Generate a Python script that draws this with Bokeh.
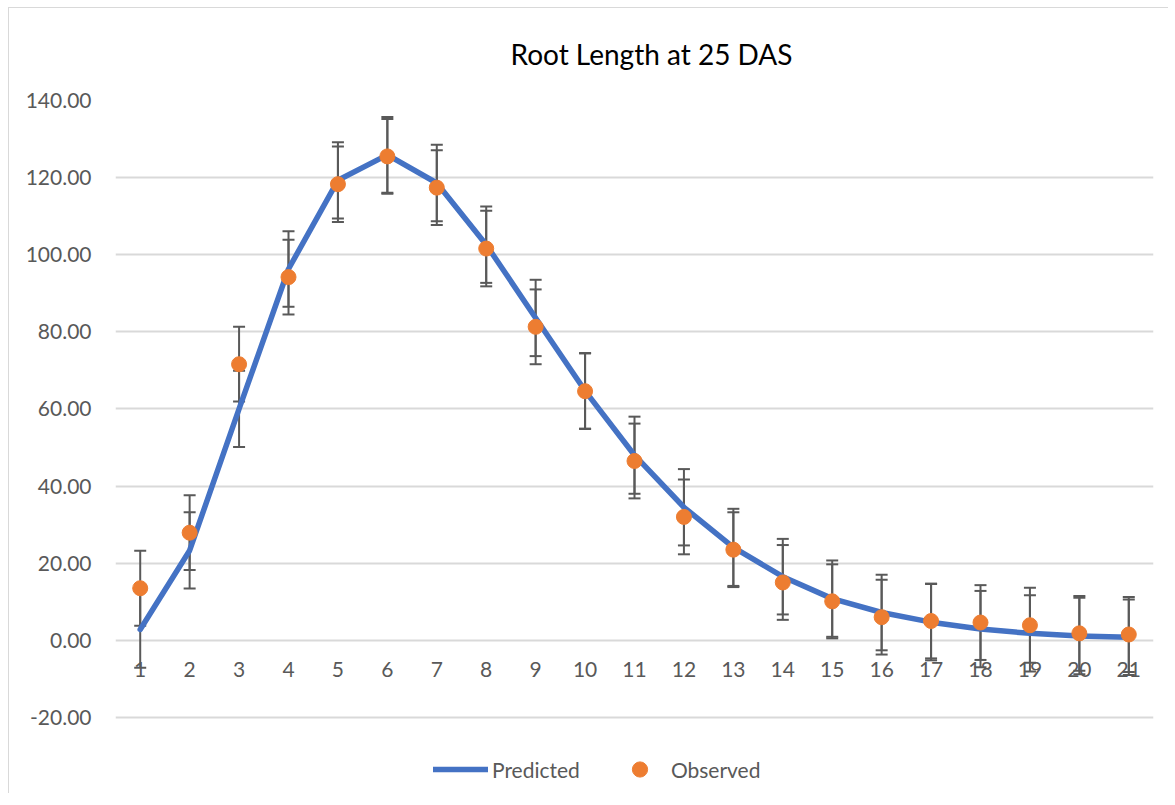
from bokeh.plotting import figure
from bokeh.models import (ColumnDataSource, Range1d, FixedTicker, NumeralTickFormatter,
                          Whisker, TeeHead, Legend, LegendItem)
from bokeh.core.properties import value
from bokeh.embed import file_html
from bokeh.resources import INLINE

# ---- data ----
categories = list(range(1, 22))
category_labels = [str(c) for c in categories]
predicted = [2.8, 23.3, 60.0, 96.3, 119.3, 125.9, 118.6, 102.6, 83.6, 64.7, 48.0,
             34.5, 24.1, 16.5, 10.8, 7.2, 4.7, 2.9, 1.8, 1.1, 0.8]
observed = [13.5, 27.9, 71.6, 94.2, 118.3, 125.5, 117.4, 101.6, 81.3, 64.6, 46.5,
            32.0, 23.5, 15.0, 10.1, 6.0, 5.0, 4.6, 3.9, 1.8, 1.5]
predicted_err = [9.9, 9.9, 9.9, 9.8, 9.9, 9.8, 9.9, 9.9, 9.9, 9.8, 10.0,
                 9.9, 10.0, 9.8, 9.9, 9.8, 9.9, 9.9, 9.9, 9.9, 9.8]
observed_err = [9.7, 9.7, 9.7, 9.7, 9.8, 9.7, 9.7, 9.8, 9.7, 9.8, 9.7,
                9.7, 9.7, 9.7, 9.6, 9.7, 9.7, 9.7, 9.7, 9.7, 9.7]
y_ticks = [-20, 0, 20, 40, 60, 80, 100, 120, 140]
axis_cross = 0  # horizontal axis crosses the value axis at 0

FONT = "Lato"
GREY = "#595959"

src = ColumnDataSource(dict(
    x=categories, pred=predicted, obs=observed,
    p_lo=[v - e for v, e in zip(predicted, predicted_err)],
    p_hi=[v + e for v, e in zip(predicted, predicted_err)],
    o_lo=[v - e for v, e in zip(observed, observed_err)],
    o_hi=[v + e for v, e in zip(observed, observed_err)],
))
lab_src = ColumnDataSource(dict(x=categories, y=[axis_cross] * len(categories),
                                text=category_labels))

p = figure(width=1160, height=786, output_backend="svg", toolbar_location=None,
           x_range=Range1d(0.5, 21.5), y_range=Range1d(-40, 140),
           min_border_left=106, min_border_right=16, min_border_top=92,
           min_border_bottom=0, title="Root Length at 25 DAS")
p.styles = {"margin-left": "8px", "margin-top": "7px",
            "border-left": "1px solid #d9d9d9", "border-top": "1px solid #d9d9d9"}
p.outline_line_color = None
p.background_fill_color = "white"
p.border_fill_color = "white"

p.title.align = "left"
p.title.offset = 395
p.title.text_font = FONT
p.title.text_font_size = "28px"
p.title.text_font_style = "normal"
p.title.text_color = "#000000"
p.title.vertical_align = "top"
p.title.standoff = 55

# axes
p.xgrid.grid_line_color = None
p.ygrid.grid_line_color = "#d9d9d9"
p.ygrid.grid_line_width = 2
p.xaxis.visible = False

p.yaxis.ticker = FixedTicker(ticks=y_ticks)
p.yaxis.formatter = NumeralTickFormatter(format="0.00")
p.yaxis.axis_line_color = None
p.yaxis.major_tick_line_color = None
p.yaxis.minor_tick_line_color = None
p.yaxis.major_label_standoff = 18
p.yaxis.major_label_text_font = FONT
p.yaxis.major_label_text_font_size = "21px"
p.yaxis.major_label_text_color = GREY

# category labels along the axis crossing at 0
p.text("x", "y", text="text", source=lab_src, text_align="center",
       text_baseline="middle", y_offset=29, text_font=value(FONT),
       text_font_size="21px", text_color=GREY)

# glyphs
line_r = p.line("x", "pred", source=src, line_color="#4472C4", line_width=5.5,
                line_join="round", line_cap="round")

for lo, hi in (("p_lo", "p_hi"), ("o_lo", "o_hi")):
    w = Whisker(base="x", lower=lo, upper=hi, source=src, line_color=GREY, line_width=2,
                upper_head=TeeHead(size=12, line_color=GREY, line_width=2),
                lower_head=TeeHead(size=12, line_color=GREY, line_width=2))
    p.add_layout(w)

dot_r = p.scatter("x", "obs", source=src, size=15, fill_color="#ED7D31",
                  line_color="#ED7D31")

legend = Legend(items=[LegendItem(label="Predicted", renderers=[line_r]),
                       LegendItem(label="Observed", renderers=[dot_r])],
                orientation="horizontal", location=(318, 6),
                glyph_width=55, glyph_height=38, label_standoff=4, spacing=32,
                padding=0, margin=0, border_line_color=None,
                background_fill_alpha=0,
                label_text_font=FONT, label_text_font_size="21px",
                label_text_color=GREY)
p.add_layout(legend)

open("out.html", "w").write(file_html(p, INLINE))
